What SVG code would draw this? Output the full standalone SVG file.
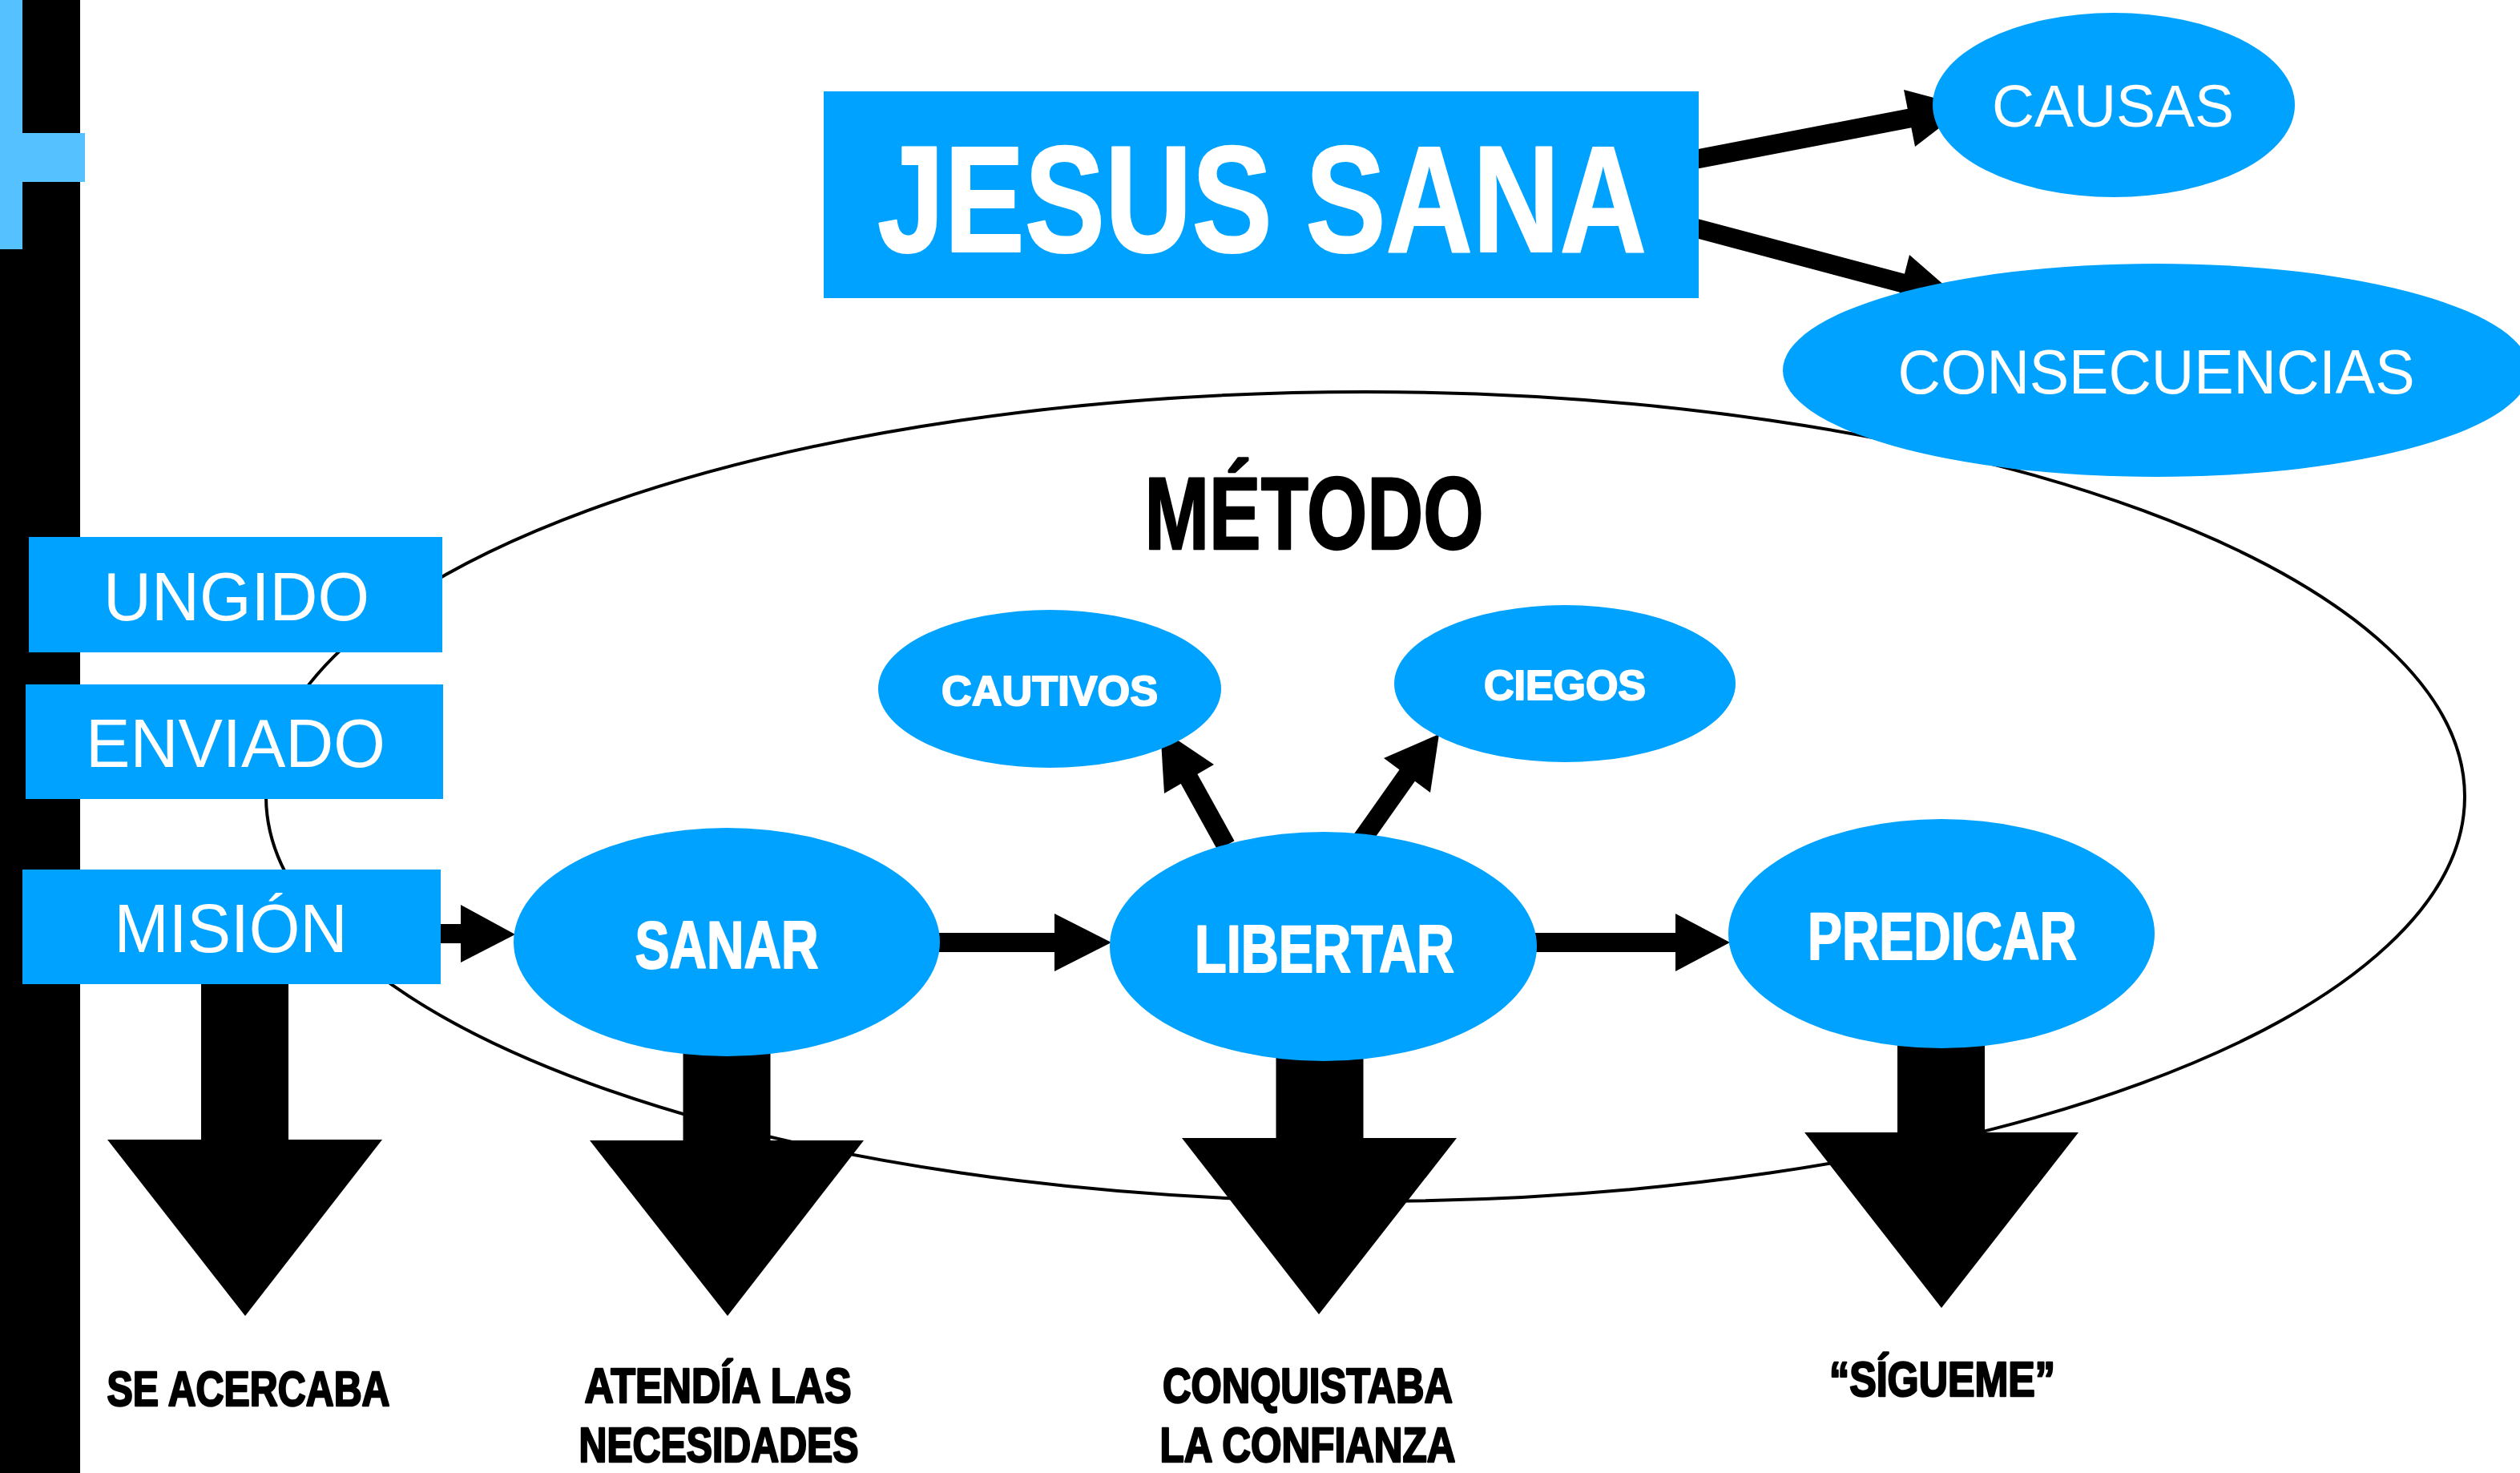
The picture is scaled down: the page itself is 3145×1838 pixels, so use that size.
<svg xmlns="http://www.w3.org/2000/svg" width="3145" height="1838" viewBox="0 0 3145 1838">
<style>
.node{fill:#00A2FF}
.bar{fill:#000}
.accent{fill:#56C1FF}
.wr{font-family:"Liberation Sans",Arial,sans-serif;font-weight:400;fill:#fff;text-anchor:middle}
.wb{font-family:"Liberation Sans",Arial,sans-serif;font-weight:700;fill:#fff;stroke:#fff;stroke-width:2;stroke-linejoin:round;text-anchor:middle}
.kb{font-family:"Liberation Sans",Arial,sans-serif;font-weight:700;fill:#000;stroke:#000;stroke-width:2.5;stroke-linejoin:round;text-anchor:middle}
.shaft{stroke:#000;stroke-width:24;fill:none}
.big{stroke:#000;stroke-width:109;fill:none}
.head{fill:#000}
.outline{fill:none;stroke:#000;stroke-width:4}
</style>
<rect width="3145" height="1838" fill="#fff"/>
<g id="sidebar">
<rect class="bar" x="0" y="0" width="100" height="1838"/>
<rect class="accent" x="0" y="0" width="28" height="311"/>
<rect class="accent" x="0" y="166" width="106" height="61"/>
</g>
<g id="metodo">
<ellipse class="outline" cx="1704" cy="994" rx="1372" ry="505"/>
<text class="kb" x="1640" y="685" font-size="128" stroke-width="3.5" textLength="423" lengthAdjust="spacingAndGlyphs">MÉTODO</text>
</g>
<g id="connectors">
<line class="shaft" x1="2110" y1="200" x2="2386" y2="147"/>
<polygon class="head" points="2455,133 2376,112 2390,183"/>
<line class="shaft" x1="2110" y1="283" x2="2377" y2="354"/>
<polygon class="head" points="2445,372 2383,318 2365,388"/>
<line class="shaft" x1="545" y1="1165" x2="577" y2="1165"/>
<polygon class="head" points="575,1129 575,1201 643,1166"/>
<line class="shaft" x1="1165" y1="1176" x2="1318" y2="1176"/>
<polygon class="head" points="1316,1140 1316,1212 1387,1176"/>
<line class="shaft" x1="1910" y1="1176" x2="2093" y2="1176"/>
<polygon class="head" points="2091,1140 2091,1212 2159,1176"/>
<line class="shaft" x1="1530" y1="1055" x2="1483" y2="970"/>
<polygon class="head" points="1448,909 1515,954 1453,990"/>
<line class="shaft" x1="1698" y1="1050" x2="1758" y2="965"/>
<polygon class="head" points="1796,916 1727,946 1785,989"/>
<line class="big" x1="305.5" y1="1220" x2="305.5" y2="1424"/>
<polygon class="head" points="134,1422 477,1422 306,1642"/>
<line class="big" x1="907" y1="1290" x2="907" y2="1425"/>
<polygon class="head" points="736,1423 1078,1423 908,1642"/>
<line class="big" x1="1647" y1="1300" x2="1647" y2="1422"/>
<polygon class="head" points="1475,1420 1818,1420 1646,1640"/>
<line class="big" x1="2422.5" y1="1290" x2="2422.5" y2="1415"/>
<polygon class="head" points="2252,1413 2594,1413 2423,1632"/>
</g>
<g id="jesus-sana">
<rect class="node" x="1028" y="114" width="1092" height="258"/>
<text class="wb" x="1575" y="314" font-size="190" stroke-width="5" textLength="960" lengthAdjust="spacingAndGlyphs">JESUS SANA</text>
</g>
<g id="causas">
<ellipse class="node" cx="2638" cy="131" rx="226" ry="115"/>
<text class="wr" x="2637" y="158" font-size="74" textLength="302" lengthAdjust="spacingAndGlyphs">CAUSAS</text>
</g>
<g id="consecuencias">
<ellipse class="node" cx="2691" cy="462" rx="466" ry="133"/>
<text class="wr" x="2691" y="491" font-size="78" textLength="645" lengthAdjust="spacingAndGlyphs">CONSECUENCIAS</text>
</g>
<g id="ungido">
<rect class="node" x="36" y="670" width="516" height="144"/>
<text class="wr" x="295" y="774" font-size="86" textLength="332" lengthAdjust="spacingAndGlyphs">UNGIDO</text>
</g>
<g id="enviado">
<rect class="node" x="32" y="854" width="521" height="143"/>
<text class="wr" x="294" y="957" font-size="86" textLength="374" lengthAdjust="spacingAndGlyphs">ENVIADO</text>
</g>
<g id="mision">
<rect class="node" x="28" y="1085" width="522" height="143"/>
<text class="wr" x="288" y="1188" font-size="86" textLength="291" lengthAdjust="spacingAndGlyphs">MISIÓN</text>
</g>
<g id="sanar">
<ellipse class="node" cx="907" cy="1175.5" rx="266" ry="142.5"/>
<text class="wb" x="907" y="1208" font-size="84" textLength="229" lengthAdjust="spacingAndGlyphs">SANAR</text>
</g>
<g id="libertar">
<ellipse class="node" cx="1651.5" cy="1181" rx="266.5" ry="143"/>
<text class="wb" x="1653" y="1213" font-size="84" textLength="324" lengthAdjust="spacingAndGlyphs">LIBERTAR</text>
</g>
<g id="predicar">
<ellipse class="node" cx="2423" cy="1165" rx="266" ry="143"/>
<text class="wb" x="2424" y="1197" font-size="84" textLength="336" lengthAdjust="spacingAndGlyphs">PREDICAR</text>
</g>
<g id="cautivos">
<ellipse class="node" cx="1310" cy="859.5" rx="214" ry="98.5"/>
<text class="wb" x="1310" y="880" font-size="52" stroke-width="1.2" textLength="270" lengthAdjust="spacingAndGlyphs">CAUTIVOS</text>
</g>
<g id="ciegos">
<ellipse class="node" cx="1953" cy="853" rx="213" ry="98"/>
<text class="wb" x="1953" y="873" font-size="52" stroke-width="1.2" textLength="202" lengthAdjust="spacingAndGlyphs">CIEGOS</text>
</g>
<g id="se-acercaba">
<text class="kb" x="310" y="1754" font-size="62" textLength="353" lengthAdjust="spacingAndGlyphs">SE ACERCABA</text>
</g>
<g id="atendia">
<text class="kb" x="896" y="1750" font-size="62" textLength="333" lengthAdjust="spacingAndGlyphs">ATENDÍA LAS</text>
<text class="kb" x="897" y="1824" font-size="62" textLength="349" lengthAdjust="spacingAndGlyphs">NECESIDADES</text>
</g>
<g id="conquistaba">
<text class="kb" x="1632" y="1750" font-size="62" textLength="362" lengthAdjust="spacingAndGlyphs">CONQUISTABA</text>
<text class="kb" x="1632" y="1824" font-size="62" textLength="369" lengthAdjust="spacingAndGlyphs">LA CONFIANZA</text>
</g>
<g id="sigueme">
<text class="kb" x="2424" y="1742" font-size="62" textLength="282" lengthAdjust="spacingAndGlyphs">“SÍGUEME”</text>
</g>
</svg>
